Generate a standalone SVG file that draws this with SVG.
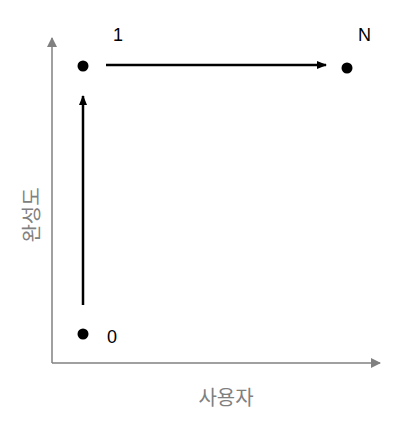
<svg xmlns="http://www.w3.org/2000/svg" width="408" height="426" viewBox="0 0 408 426">
<defs>
<marker id="ga" markerWidth="10" markerHeight="10" refX="9" refY="5" orient="auto" markerUnits="userSpaceOnUse"><path d="M0,0 L10,5 L0,10 Z" fill="#808080"/></marker>
<marker id="ba" markerWidth="10" markerHeight="10" refX="9" refY="5" orient="auto" markerUnits="userSpaceOnUse"><path d="M0,1 L10,5 L0,9 Z" fill="#000"/></marker>
</defs>
<style>
.ax{stroke:#808080;stroke-width:1.5;fill:none}
.ar{stroke:#000;stroke-width:2.5;fill:none}
.dot{fill:#000}
.num{font-family:"Liberation Sans",Arial,sans-serif;font-size:18px;fill:#000}
.kr{font-family:"Noto Sans CJK KR","Noto Sans",sans-serif;font-size:20px;fill:#808080}
</style>
<rect width="408" height="426" fill="#fff"/>
<g id="axes">
<line class="ax" x1="52" y1="363" x2="52" y2="38" marker-end="url(#ga)"/>
<line class="ax" x1="52" y1="363" x2="380" y2="363" marker-end="url(#ga)"/>
<text class="kr" x="226" y="405" text-anchor="middle">사용자</text>
<text class="kr" transform="translate(39,215) rotate(-90)" text-anchor="middle">완성도</text>
</g>
<g id="n0"><circle class="dot" cx="83" cy="334" r="5.5"/><text class="num" x="107" y="343">0</text></g>
<g id="n1"><circle class="dot" cx="83" cy="66" r="5.5"/><text class="num" x="113" y="41">1</text></g>
<g id="nN"><circle class="dot" cx="347" cy="68" r="5.5"/><text class="num" x="358" y="41">N</text></g>
<g id="connectors">
<line class="ar" x1="83" y1="305" x2="83" y2="96" marker-end="url(#ba)"/>
<line class="ar" x1="106" y1="65" x2="326" y2="65" marker-end="url(#ba)"/>
</g>
</svg>
